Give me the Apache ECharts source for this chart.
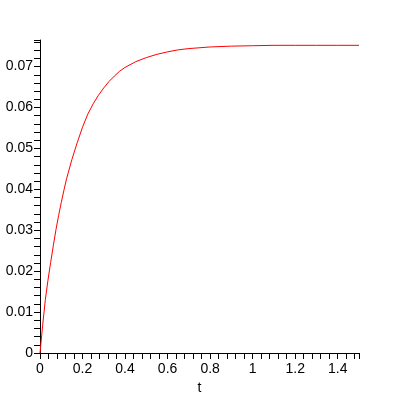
<!DOCTYPE html>
<html>
<head>
<meta charset="utf-8">
<script src="https://cdn.jsdelivr.net/npm/echarts@6/dist/echarts.min.js"></script>
<style>html,body{margin:0;padding:0;background:#fff}#c{width:400px;height:400px}</style>
</head>
<body>
<div id="c"></div>
<script>
var tValues = [0, 0.0125, 0.025, 0.0375, 0.05, 0.0625, 0.075, 0.0875, 0.1, 0.1125, 0.125, 0.15, 0.175, 0.2, 0.225, 0.25, 0.275, 0.3, 0.325, 0.35, 0.375, 0.4, 0.45, 0.5, 0.55, 0.6, 0.65, 0.7, 0.8, 0.9, 1.0, 1.1, 1.2, 1.3, 1.4, 1.5];
var yValues = [0, 0.0068, 0.0130, 0.0178, 0.0221, 0.0262, 0.0301, 0.0336, 0.0368, 0.0398, 0.0426, 0.0473, 0.0514, 0.0552, 0.0584, 0.0609, 0.0630, 0.0648, 0.0664, 0.0677, 0.0689, 0.0698, 0.0712, 0.0722, 0.0730, 0.0736, 0.0741, 0.0744, 0.0748, 0.0750, 0.0751, 0.0752, 0.0752, 0.0752, 0.0752, 0.0752];
var xTickLabels = ['0', '0.2', '0.4', '0.6', '0.8', '1', '1.2', '1.4'];
var yTickLabels = ['0', '0.01', '0.02', '0.03', '0.04', '0.05', '0.06', '0.07'];

var pts = tValues.map(function (t, i) { return [t, yValues[i]]; });
var font = 'Liberation Sans';
var chart = echarts.init(document.getElementById('c'), null, {renderer: 'canvas'});
chart.setOption({
  animation: false,
  backgroundColor: '#ffffff',
  grid: {left: 40, right: 41, top: 40, bottom: 47, containLabel: false},
  xAxis: {
    type: 'value', min: 0, max: 1.5, interval: 0.2,
    name: 't', nameLocation: 'middle', nameGap: 28,
    nameTextStyle: {color: '#000', fontFamily: font, fontSize: 14},
    axisLine: {show: true, onZero: false, lineStyle: {color: '#000', width: 1}},
    axisTick: {show: true, length: 6, lineStyle: {color: '#000'}},
    minorTick: {show: true, splitNumber: 5, length: 6, lineStyle: {color: '#000'}},
    splitLine: {show: false},
    axisLabel: {color: '#000', fontFamily: font, fontSize: 14, margin: 9, showMaxLabel: false,
      formatter: function (v) { var i = Math.round(v / 0.2); return Math.abs(v - i * 0.2) < 1e-6 && xTickLabels[i] !== undefined ? xTickLabels[i] : ''; }}
  },
  yAxis: {
    type: 'value', min: 0, max: 0.0765, interval: 0.01,
    axisLine: {show: true, onZero: false, lineStyle: {color: '#000', width: 1}},
    axisTick: {show: true, length: 6, lineStyle: {color: '#000'}},
    minorTick: {show: true, splitNumber: 5, length: 6, lineStyle: {color: '#000'}},
    splitLine: {show: false},
    axisLabel: {color: '#000', fontFamily: font, fontSize: 14, margin: 7, showMaxLabel: false,
      formatter: function (v) { var i = Math.round(v / 0.01); return Math.abs(v - i * 0.01) < 1e-7 && yTickLabels[i] !== undefined ? yTickLabels[i] : ''; }}
  },
  series: [{
    type: 'line', data: pts, showSymbol: false, smooth: false,
    lineStyle: {color: '#ff0000', width: 1}, itemStyle: {color: '#ff0000'}
  }]
});
</script>
</body>
</html>
